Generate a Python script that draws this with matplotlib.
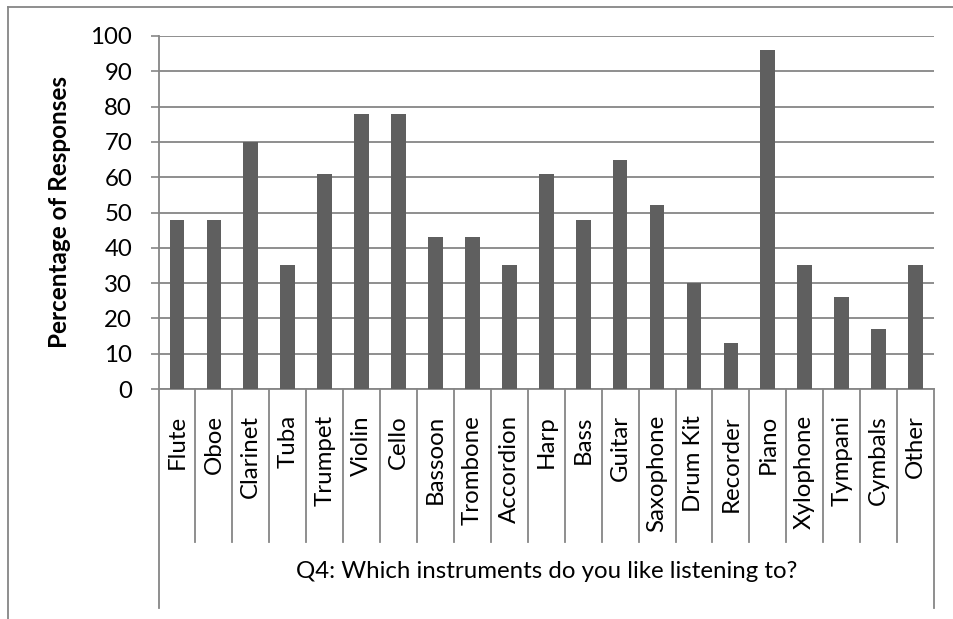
import matplotlib
matplotlib.use("Agg")
import matplotlib.pyplot as plt
from matplotlib.lines import Line2D
from matplotlib.transforms import blended_transform_factory
import numpy as np

instruments = ["Flute", "Oboe", "Clarinet", "Tuba", "Trumpet", "Violin", "Cello",
               "Bassoon", "Trombone", "Accordion", "Harp", "Bass", "Guitar",
               "Saxophone", "Drum Kit", "Recorder", "Piano", "Xylophone",
               "Tympani", "Cymbals", "Other"]
responses = [48, 48, 70, 35, 61, 78, 78, 43, 43, 35, 61, 48, 65, 52, 30, 13,
             96, 35, 26, 17, 35]
y_ticks = [0, 10, 20, 30, 40, 50, 60, 70, 80, 90, 100]
y_title = "Percentage of Responses"
x_title = "Q4: Which instruments do you like listening to?"

plt.rcParams["font.family"] = ["Lato", "DejaVu Sans"]

W, H = 954, 619
fig = plt.figure(figsize=(W / 100, H / 100), dpi=100)

# plot area in pixel coordinates
px_left, px_right, px_top, px_bottom = 158.5, 934, 36, 389
ax = fig.add_axes([px_left / W, 1 - px_bottom / H,
                   (px_right - px_left) / W, (px_bottom - px_top) / H])

grid_col = "#868686"
bar_col = "#5f5f5f"
text_col = "#000000"
fs = 17.3

x = np.arange(len(instruments))
ax.bar(x, responses, width=0.4, color=bar_col, zorder=3)

ax.set_xlim(-0.5, len(instruments) - 0.5)
ax.set_ylim(0, 100)
ax.set_yticks(y_ticks)
ax.set_yticklabels([str(v) for v in y_ticks], fontsize=fs, color=text_col)
ax.tick_params(axis="y", direction="out", length=6, width=1.2, color=grid_col, pad=13)
ax.set_xticks([])

ax.yaxis.grid(True, color=grid_col, linewidth=1.3, zorder=0)
ax.set_axisbelow(True)
for side in ("top", "right"):
    ax.spines[side].set_visible(False)
for side in ("left", "bottom"):
    ax.spines[side].set_color(grid_col)
    ax.spines[side].set_linewidth(1.3)

# category dividers and the multi-level label box below the axis
plot_h = px_bottom - px_top
div_bottom = -(542 - px_bottom) / plot_h
box_bottom = -(607.5 - px_bottom) / plot_h
trans = blended_transform_factory(ax.transData, ax.transAxes)
n = len(instruments)
for k in range(n + 1):
    xb = k - 0.5
    yb = box_bottom if k in (0, n) else div_bottom
    ax.add_line(Line2D([xb, xb], [0, yb], transform=trans, color=grid_col,
                       linewidth=1.3, clip_on=False))

label_top = -(415 - px_bottom) / plot_h
for xi, name in zip(x, instruments):
    ax.text(xi, label_top, name, transform=trans, rotation=90, ha="center",
            va="top", fontsize=fs, color=text_col)

title_y = -(571 - px_bottom) / plot_h
ax.text((n - 1) / 2, title_y, x_title, transform=trans, ha="center",
        va="center", fontsize=fs, color=text_col)

fig.text(60 / W, 1 - 212.5 / H, y_title, rotation=90, ha="center", va="center",
         fontsize=17.5, fontweight="bold", color=text_col)

# chart-area border
fig.add_artist(Line2D([8 / W, 1.0], [1 - 7 / H, 1 - 7 / H], transform=fig.transFigure,
                      color=grid_col, linewidth=1.3))
fig.add_artist(Line2D([8 / W, 8 / W], [0.0, 1 - 7 / H], transform=fig.transFigure,
                      color=grid_col, linewidth=1.3))

fig.savefig("out.png", dpi=100)
